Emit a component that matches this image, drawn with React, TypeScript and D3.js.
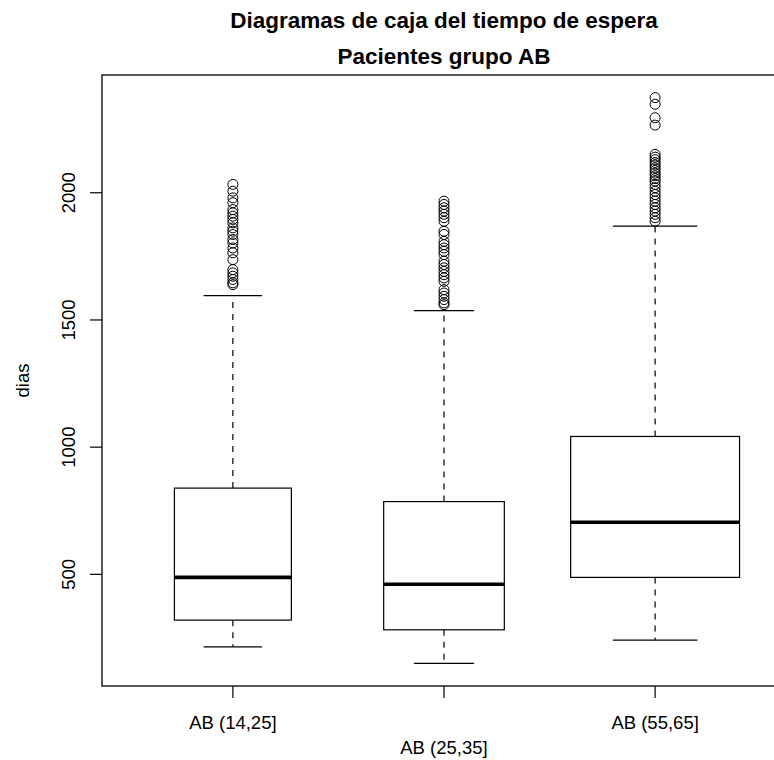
import React from "react";
import * as d3 from "d3";

// groups and box statistics (dias)
const groups = ["AB (14,25]", "AB (25,35]", "AB (55,65]"];
const counts = [470, 500, 980];
const lowerWhisker = [215, 150, 241];
const q1 = [320, 282, 488];
const medians = [488, 461, 705];
const q3 = [839, 786, 1042];
const upperWhisker = [1596, 1537, 1869];

// outliers
const outliers1 = [
  2033, 2006, 1980, 1961, 1934, 1921, 1908, 1895, 1882, 1862, 1849, 1836,
  1816, 1803, 1783, 1764, 1737, 1698, 1685, 1672, 1659, 1646, 1639,
];
const outliers2 = [
  1967, 1954, 1941, 1928, 1915, 1902, 1888, 1849, 1836, 1809, 1796, 1783,
  1770, 1757, 1731, 1718, 1705, 1691, 1678, 1665, 1652, 1619, 1606, 1593,
  1580, 1567, 1560,
];
const outliers3 = [
  2374, 2348, 2295, 2266, 2151, 2140, 2130, 2119, 2109, 2098, 2088, 2077,
  2067, 2056, 2046, 2033, 2020, 2006, 1993, 1980, 1967, 1954, 1941, 1928,
  1915, 1902, 1888,
];
const yTicks = [500, 1000, 1500, 2000];

const title = "Diagramas de caja del tiempo de espera";
const subtitle = "Pacientes grupo AB";
const yLabel = "dias";

const FONT = "'Liberation Sans', Arial, Helvetica, sans-serif";

export default function App() {
  const width = 774;
  const height = 760;
  const plot = { left: 102, right: 786, top: 75, bottom: 686 };

  const outliers = [outliers1, outliers2, outliers3];
  const allVals = [...lowerWhisker, ...upperWhisker, ...outliers.flat()];
  const lo = d3.min(allVals) as number;
  const hi = d3.max(allVals) as number;
  const pad = (hi - lo) * 0.04;

  const y = d3.scaleLinear().domain([lo - pad, hi + pad]).range([plot.bottom, plot.top]);
  const xPad = groups.length * 0.04;
  const x = d3
    .scaleLinear()
    .domain([0.5 - xPad, groups.length + 0.5 + xPad])
    .range([plot.left, plot.right]);

  const maxSqrt = Math.sqrt(d3.max(counts) as number);
  const unit = x(1) - x(0);

  const stroke = "#000";
  const midX = (plot.left + plot.right) / 2;

  return (
    <div style={{ position: "absolute", left: 0, top: 0 }}>
      <svg width={width} height={height} style={{ display: "block", background: "#fff" }} fontFamily={FONT}>
        {/* titles */}
        <text x={midX} y={28} textAnchor="middle" fontSize={22.5} fontWeight="bold">
          {title}
        </text>
        <text x={midX} y={64} textAnchor="middle" fontSize={22.5} fontWeight="bold">
          {subtitle}
        </text>

        {groups.map((g, i) => {
          const cx = x(i + 1);
          const bw = 0.8 * unit * (Math.sqrt(counts[i]) / maxSqrt);
          const capW = bw / 2;
          return (
            <g key={g}>
              {/* whiskers */}
              <line x1={cx} x2={cx} y1={y(q3[i])} y2={y(upperWhisker[i])} stroke={stroke} strokeWidth={1.2} strokeDasharray="6,6" />
              <line x1={cx} x2={cx} y1={y(q1[i])} y2={y(lowerWhisker[i])} stroke={stroke} strokeWidth={1.2} strokeDasharray="6,6" />
              <line x1={cx - capW / 2} x2={cx + capW / 2} y1={y(upperWhisker[i])} y2={y(upperWhisker[i])} stroke={stroke} strokeWidth={1.2} />
              <line x1={cx - capW / 2} x2={cx + capW / 2} y1={y(lowerWhisker[i])} y2={y(lowerWhisker[i])} stroke={stroke} strokeWidth={1.2} />
              {/* box */}
              <rect x={cx - bw / 2} y={y(q3[i])} width={bw} height={y(q1[i]) - y(q3[i])} fill="#fff" stroke={stroke} strokeWidth={1.2} />
              <line x1={cx - bw / 2} x2={cx + bw / 2} y1={y(medians[i])} y2={y(medians[i])} stroke={stroke} strokeWidth={3.6} />
              {/* outliers */}
              {outliers[i].map((v, j) => (
                <circle key={j} cx={cx} cy={y(v)} r={5} fill="none" stroke={stroke} strokeWidth={1} />
              ))}
            </g>
          );
        })}

        {/* frame */}
        <rect x={plot.left} y={plot.top} width={plot.right - plot.left} height={plot.bottom - plot.top} fill="none" stroke={stroke} strokeWidth={1.3} />

        {/* x axis ticks & labels */}
        {groups.map((g, i) => (
          <g key={"xt" + g}>
            <line x1={x(i + 1)} x2={x(i + 1)} y1={plot.bottom} y2={plot.bottom + 12} stroke={stroke} strokeWidth={1.2} />
            <text x={x(i + 1)} y={i % 2 === 1 ? 754 : 729} textAnchor="middle" fontSize={18.5}>
              {g}
            </text>
          </g>
        ))}

        {/* y axis ticks & labels */}
        {yTicks.map((t) => (
          <g key={"yt" + t} transform={`translate(${plot.left},${y(t)})`}>
            <line x1={-12} x2={0} stroke={stroke} strokeWidth={1.2} />
            <text transform="translate(-27,0) rotate(-90)" textAnchor="middle" fontSize={18.5}>
              {t}
            </text>
          </g>
        ))}
        <text transform={`translate(28.5,${(plot.top + plot.bottom) / 2}) rotate(-90)`} textAnchor="middle" fontSize={18.5}>
          {yLabel}
        </text>
      </svg>
    </div>
  );
}
